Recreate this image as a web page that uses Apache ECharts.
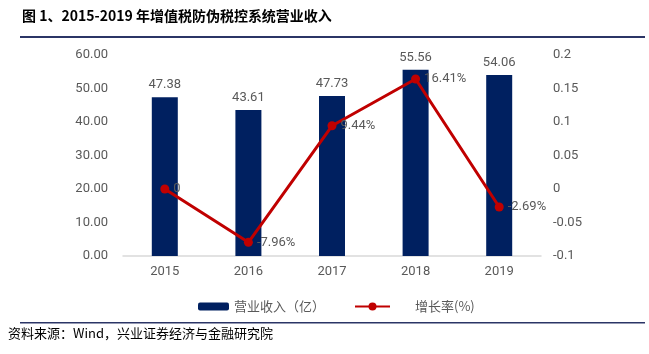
<!DOCTYPE html>
<html>
<head>
<meta charset="utf-8">
<script src="https://cdn.jsdelivr.net/npm/echarts@6/dist/echarts.min.js"></script>
<style>
html, body { margin: 0; padding: 0; background: #fff; }
#chart { width: 649px; height: 354px; }
</style>
</head>
<body>
<div id="chart"></div>
<script>
const years = ['2015', '2016', '2017', '2018', '2019'];
const revenue = [47.38, 43.61, 47.73, 55.56, 54.06];
const growth = [0, -0.0796, 0.0944, 0.1641, -0.0269];

const chart = echarts.init(document.getElementById('chart'));
const gray = '#595959';
const cjk = '"Noto Sans CJK SC", sans-serif';
const latin = 'Roboto, "Liberation Sans", sans-serif';

const option = {
	animation: false,
	textStyle: { fontFamily: latin },
	graphic: [
		{
			type: 'text', left: 22, top: 9,
			style: { text: '图 1、2015-2019 年增值税防伪税控系统营业收入', font: 'bold 14px ' + cjk, fill: '#000' }
		},
		{
			type: 'rect', shape: { x: 20, y: 36, width: 625, height: 2 },
			style: { fill: '#2b3566' }
		},
		{
			type: 'rect', shape: { x: 20, y: 322, width: 625, height: 1.5 },
			style: { fill: '#2b3566' }
		},
		{
			type: 'text', left: 8, top: 327,
			style: { text: '资料来源：Wind，兴业证券经济与金融研究院', font: '13px ' + cjk, fill: '#000' }
		}
	],
	legend: [
		{
			data: ['营业收入（亿）'],
			left: 193, top: 295,
			itemWidth: 31, itemHeight: 8,
			textStyle: { color: gray, fontSize: 13, fontFamily: cjk }
		},
		{
			data: ['增长率(%)'],
			left: 349, top: 295,
			itemWidth: 35, itemHeight: 10,
			textStyle: { color: gray, fontSize: 13, fontFamily: cjk, padding: [0, 0, 0, 20] }
		}
	],
	grid: { left: 123, right: 108, top: 55, bottom: 98 },
	xAxis: {
		type: 'category',
		data: years,
		axisLine: { lineStyle: { color: '#d9d9d9', width: 1.5 } },
		axisTick: { show: false },
		axisLabel: { color: gray, fontSize: 13, margin: 9 }
	},
	yAxis: [
		{
			type: 'value', min: 0, max: 60, interval: 10,
			splitLine: { show: false },
			axisLabel: { color: gray, fontSize: 13, margin: 15, formatter: v => v.toFixed(2) }
		},
		{
			type: 'value', min: -0.1, max: 0.2, interval: 0.05,
			splitLine: { show: false },
			axisLabel: { color: gray, fontSize: 13, margin: 12, formatter: v => String(Number(v.toFixed(2))) }
		}
	],
	series: [
		{
			name: '营业收入（亿）',
			type: 'bar',
			data: revenue,
			barWidth: 26,
			itemStyle: { color: '#002060' },
			label: { show: true, position: 'top', color: gray, fontSize: 13, distance: 6 }
		},
		{
			name: '增长率(%)',
			type: 'line',
			yAxisIndex: 1,
			data: growth,
			symbol: 'circle',
			symbolSize: 9,
			lineStyle: { color: '#c00000', width: 3 },
			itemStyle: { color: '#c00000' },
			label: {
				show: true, position: 'right', color: gray, fontSize: 13, distance: 4,
				formatter: p => p.value === 0 ? '0' : (p.value * 100).toFixed(2) + '%'
			}
		}
	]
};
chart.setOption(option);
</script>
</body>
</html>
